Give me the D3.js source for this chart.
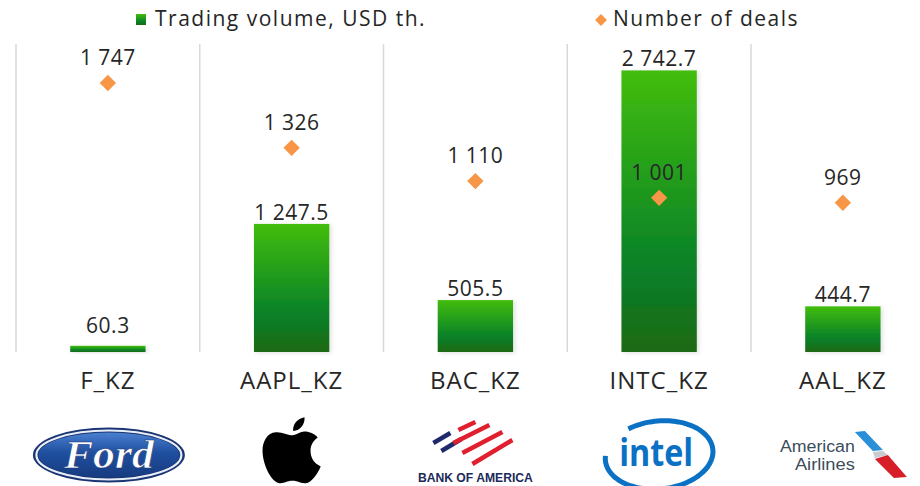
<!DOCTYPE html>
<html>
<head>
<meta charset="utf-8">
<script src="https://cdn.jsdelivr.net/npm/d3@7"></script>
<style>
  body { margin: 0; background: #fff; }
  svg { font-family: "Open Sans", sans-serif; }
  .lbl { fill: #262626; font-size: 21px; letter-spacing: 0.5px; }
  .cat { fill: #262626; font-size: 24px; letter-spacing: 1px; }
  .legend { fill: #262626; font-size: 21px; letter-spacing: 1.5px; }
</style>
</head>
<body>
<script>
// tickers on the x axis
const tickers = ["F_KZ", "AAPL_KZ", "BAC_KZ", "INTC_KZ", "AAL_KZ"];
// trading volume, USD th. (bars)
const volume = [60.3, 1247.5, 505.5, 2742.7, 444.7];
// number of deals (diamonds)
const deals = [1747, 1326, 1110, 1001, 969];

const seriesNames = ["Trading volume, USD th.", "Number of deals"];

const w = 920, h = 486;
const plotTop = 44, base = 352; // plot area in px
const plotLeft = 16, plotRight = 934.75;

const fmt = d3.formatLocale({decimal: ".", thousands: " ", grouping: [3], currency: ["", ""]});
const fmtVol = fmt.format(",.1f");
const fmtDeals = fmt.format(",d");

const svg = d3.select("body").append("svg")
  .attr("width", w)
  .attr("height", h);

const defs = svg.append("defs");
const grad = defs.append("linearGradient")
  .attr("id", "barGrad")
  .attr("x1", 0).attr("y1", 0).attr("x2", 0).attr("y2", 1);
grad.append("stop").attr("offset", "0%").attr("stop-color", "#42bd0d");
grad.append("stop").attr("offset", "72%").attr("stop-color", "#077f29");
grad.append("stop").attr("offset", "100%").attr("stop-color", "#1f6912");

const shadow = defs.append("filter").attr("id", "shadow")
  .attr("x", "-20%").attr("y", "-20%").attr("width", "150%").attr("height", "150%");
shadow.append("feDropShadow")
  .attr("dx", 2).attr("dy", 1).attr("stdDeviation", 2)
  .attr("flood-color", "#000").attr("flood-opacity", 0.12);

// scales
const x = d3.scaleBand().domain(tickers).range([plotLeft, plotRight]).padding(0);
const bw = x.bandwidth();
const barW = bw * 0.41;
const y = d3.scaleLinear().domain([0, 3000]).range([base, plotTop]);
const y2 = d3.scaleLinear().domain([0, 2000]).range([base, plotTop]);

const data = tickers.map((t, i) => ({t: t, vol: volume[i], deals: deals[i]}));

// separators between categories
svg.append("g").selectAll("line")
  .data(tickers)
  .join("line")
  .attr("x1", d => x(d)).attr("x2", d => x(d))
  .attr("y1", plotTop).attr("y2", base)
  .attr("stroke", "#d9d9d9")
  .attr("stroke-width", 1.5);

// bars
svg.append("g").selectAll("rect")
  .data(data)
  .join("rect")
  .attr("x", d => x(d.t) + (bw - barW) / 2)
  .attr("y", d => y(d.vol))
  .attr("width", barW)
  .attr("height", d => base - y(d.vol))
  .attr("fill", "url(#barGrad)")
  .attr("filter", "url(#shadow)");

// bar labels (kept clear of the baseline for tiny bars)
svg.append("g").selectAll("text")
  .data(data)
  .join("text")
  .attr("class", "lbl")
  .attr("text-anchor", "middle")
  .attr("x", d => x(d.t) + bw / 2)
  .attr("y", d => Math.min(y(d.vol) - 4, base - 19))
  .text(d => fmtVol(d.vol));

// diamonds
const diamond = d3.symbol().type(d3.symbolDiamond2).size(170);
svg.append("g").selectAll("path")
  .data(data)
  .join("path")
  .attr("d", diamond)
  .attr("transform", d => `translate(${x(d.t) + bw / 2},${y2(d.deals)})`)
  .attr("fill", "#f79646");

// diamond labels
svg.append("g").selectAll("text")
  .data(data)
  .join("text")
  .attr("class", "lbl")
  .attr("text-anchor", "middle")
  .attr("x", d => x(d.t) + bw / 2)
  .attr("y", d => y2(d.deals) - 18)
  .text(d => fmtDeals(d.deals));

// category axis labels
svg.append("g").selectAll("text")
  .data(tickers)
  .join("text")
  .attr("class", "cat")
  .attr("text-anchor", "middle")
  .attr("x", d => x(d) + bw / 2)
  .attr("y", 389)
  .text(d => d);

// legend
const leg = svg.append("g");
leg.append("rect").attr("x", 136).attr("y", 14).attr("width", 10).attr("height", 11)
  .attr("fill", "url(#barGrad)");
leg.append("text").attr("class", "legend").attr("x", 155).attr("y", 26).text(seriesNames[0]);
leg.append("path").attr("d", d3.symbol().type(d3.symbolDiamond2).size(90))
  .attr("transform", "translate(601,20)").attr("fill", "#f79646");
leg.append("text").attr("class", "legend").attr("x", 613).attr("y", 26).text(seriesNames[1]);

// ---- logos under the categories ----
const logos = svg.append("g");
const cx = t => x(t) + bw / 2;

// Ford oval
{
  const fg = defs.append("linearGradient").attr("id", "fordGrad")
    .attr("x1", 0).attr("y1", 0).attr("x2", 0).attr("y2", 1);
  fg.append("stop").attr("offset", "0%").attr("stop-color", "#4a7fd0");
  fg.append("stop").attr("offset", "45%").attr("stop-color", "#1f4f9f");
  fg.append("stop").attr("offset", "100%").attr("stop-color", "#173b80");
  const g = logos.append("g").attr("transform", `translate(${cx("F_KZ") + 1},455)`);
  g.append("ellipse").attr("rx", 76).attr("ry", 27.5).attr("fill", "#1a3573");
  g.append("ellipse").attr("rx", 72.5).attr("ry", 24.5).attr("fill", "none")
    .attr("stroke", "#e9eef6").attr("stroke-width", 2.2);
  g.append("ellipse").attr("rx", 70.5).attr("ry", 22.5).attr("fill", "url(#fordGrad)");
  g.append("text").attr("text-anchor", "middle").attr("y", 13)
    .attr("font-family", "Liberation Serif, serif").attr("font-style", "italic")
    .attr("font-weight", "bold").attr("font-size", 40)
    .attr("textLength", 90).attr("lengthAdjust", "spacingAndGlyphs")
    .attr("fill", "#fff").attr("stroke", "#17357a").attr("stroke-width", 0.6)
    .text("Ford");
}

// Apple
{
  const s = 0.6;
  const g = logos.append("g")
    .attr("transform", `translate(${cx("AAPL_KZ") - 48.5 * s},${416}) scale(${s})`);
  g.append("path").attr("fill", "#000").attr("d",
    "M50 32 C40 32 33 26 22 27 C8 28 0 42 0 58 C0 80 14 110 28 112 C36 113 40 108 50 108 " +
    "C60 108 63 113 72 112 C82 111 92 96 97 84 C86 79 80 70 80 58 C80 48 85 41 92 36 " +
    "C85 28 76 26 70 26 C62 26 57 32 50 32 Z");
  g.append("path").attr("fill", "#000").attr("d",
    "M51 25 C50 14 58 4 70 2 C71 14 63 24 51 25 Z");
}

// Bank of America
{
  const c = cx("BAC_KZ");
  const g = logos.append("g").attr("transform", `translate(${c},0)`);
  const stripes = [
    {a: [-42, 443], b: [-25, 433], col: "#1f2a6b"},
    {a: [-34, 451], b: [-14, 439], col: "#1f2a6b"},
    {a: [-17, 430], b: [0, 422], col: "#e0202f"},
    {a: [-22, 443], b: [14, 425], col: "#e0202f"},
    {a: [-13, 453], b: [27, 432], col: "#e0202f"},
    {a: [-3, 464], b: [37, 440], col: "#e0202f"}
  ];
  g.selectAll("line").data(stripes).join("line")
    .attr("x1", d => d.a[0]).attr("y1", d => d.a[1])
    .attr("x2", d => d.b[0]).attr("y2", d => d.b[1])
    .attr("stroke", d => d.col).attr("stroke-width", 4.5);
  g.append("text").attr("text-anchor", "middle").attr("y", 481.5)
    .attr("font-family", "Liberation Sans, sans-serif").attr("font-weight", "bold")
    .attr("font-size", 12).attr("textLength", 115).attr("lengthAdjust", "spacingAndGlyphs")
    .attr("fill", "#1b2a5a").text("BANK OF AMERICA");
}

// Intel
{
  const c = cx("INTC_KZ");
  const ex = 54, ey = 34, rot = -6 * Math.PI / 180;
  const pts = d3.range(172, 483, 3).map(a => {
    const r = a * Math.PI / 180;
    const px = ex * Math.cos(r), py = -ey * Math.sin(r);
    return [c + px * Math.cos(rot) - py * Math.sin(rot), 455 + px * Math.sin(rot) + py * Math.cos(rot)];
  });
  logos.append("path").attr("d", d3.line().curve(d3.curveCatmullRom)(pts))
    .attr("fill", "none").attr("stroke", "#0a71c5").attr("stroke-width", 5);
  logos.append("text").attr("x", c - 3).attr("y", 466).attr("text-anchor", "middle")
    .attr("font-family", "Open Sans, sans-serif").attr("font-weight", 700)
    .attr("font-size", 38).attr("textLength", 74).attr("lengthAdjust", "spacingAndGlyphs")
    .attr("fill", "#0a71c5").text("intel");
}

// American Airlines
{
  const c = cx("AAL_KZ");
  const g = logos.append("g").attr("transform", `translate(${c},0)`)
    .attr("font-family", "Liberation Sans, sans-serif");
  g.append("text").attr("x", 12).attr("y", 451.5).attr("text-anchor", "end")
    .attr("font-size", 16).attr("textLength", 75).attr("lengthAdjust", "spacingAndGlyphs")
    .attr("fill", "#3c4c5c").text("American");
  g.append("text").attr("x", 12).attr("y", 470).attr("text-anchor", "end")
    .attr("font-size", 16).attr("textLength", 60).attr("lengthAdjust", "spacingAndGlyphs")
    .attr("fill", "#3c4c5c").text("Airlines");
  g.append("polygon").attr("points", "12,432 22,431 40,450 30,451").attr("fill", "#2a8fd6");
  g.append("polygon").attr("points", "30,452 40,451 45,455 32,458").attr("fill", "#c8ccd2");
  g.append("polygon").attr("points", "32,459 45,455 64,477 51,478").attr("fill", "#d71f2a");
}
</script>
</body>
</html>
